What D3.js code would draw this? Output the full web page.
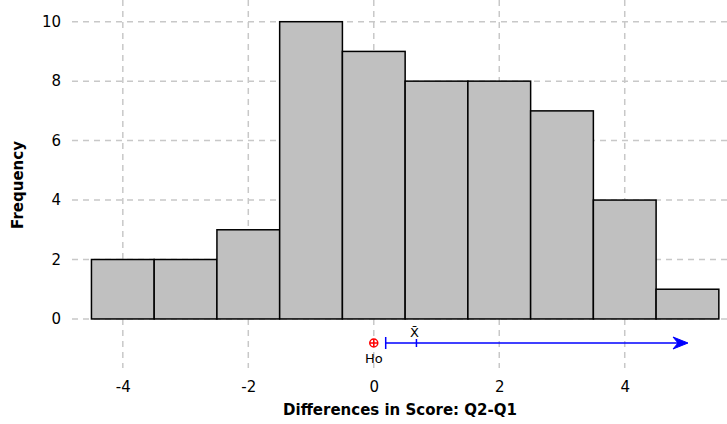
<!DOCTYPE html>
<html><head><meta charset="utf-8">
<script src="https://cdn.jsdelivr.net/npm/d3@7"></script>
<style>body{margin:0;background:#fff}svg{display:block}</style>
</head><body><svg id="c" width="727" height="424"></svg>
<script>
const binStarts = [-4.5,-3.5,-2.5,-1.5,-0.5,0.5,1.5,2.5,3.5,4.5];
const binWidth = 1;
const counts = [2,2,3,10,9,8,8,7,4,1];
const xTicks = [-4,-2,0,2,4];
const yTicks = [0,2,4,6,8,10];
const h0 = 0;
const meanDiff = 0.68;
const ciLower = 0.19;
const xTitle = "Differences in Score: Q2-Q1";
const yTitle = "Frequency";

const svg = d3.select("#c");
const font = "'DejaVu Sans', Verdana, sans-serif";
const x = d3.scaleLinear().domain([-4.81, 5.63]).range([72, 727]);
const y = d3.scaleLinear().domain([-1.65, 10.73]).range([368, 0]);

const grid = svg.append("g").attr("stroke","#c8c8c8").attr("stroke-width",1.5).attr("stroke-dasharray","6,5");
grid.selectAll("line.v").data(xTicks).join("line").attr("class","v")
  .attr("x1",d=>x(d)).attr("x2",d=>x(d)).attr("y1",0).attr("y2",368);
grid.selectAll("line.h").data(yTicks).join("line").attr("class","h")
  .attr("x1",72).attr("x2",727).attr("y1",d=>y(d)).attr("y2",d=>y(d));

svg.append("g").selectAll("rect").data(counts).join("rect")
  .attr("x",(d,i)=>x(binStarts[i]))
  .attr("width",(d,i)=>x(binStarts[i]+binWidth)-x(binStarts[i]))
  .attr("y",d=>y(d)).attr("height",d=>y(0)-y(d))
  .attr("fill","#c0c0c0").attr("stroke","#000").attr("stroke-width",1.5);

const fmt = d => String(d);
const yAxis = d3.axisLeft(y).tickValues(yTicks).tickSize(0).tickPadding(0).tickFormat(fmt);
const ya = svg.append("g").attr("transform","translate(61,0)").call(yAxis);
ya.select(".domain").remove();
ya.attr("font-size",null).attr("font-family",null);
ya.selectAll("text").attr("font-family",font).attr("font-size",15).attr("fill","#000");

const xAxis = d3.axisBottom(x).tickValues(xTicks).tickSize(0).tickPadding(0).tickFormat(fmt);
const xa = svg.append("g").attr("transform","translate(0,381)").call(xAxis);
xa.select(".domain").remove();
xa.attr("font-size",null).attr("font-family",null);
xa.selectAll("text").attr("font-family",font).attr("font-size",15).attr("fill","#000");

svg.append("text").attr("x",400).attr("y",415).attr("text-anchor","middle")
  .attr("font-family",font).attr("font-size",15).attr("font-weight","bold").text(xTitle);
svg.append("text").attr("transform","translate(23,185) rotate(-90)").attr("text-anchor","middle")
  .attr("font-family",font).attr("font-size",15).attr("font-weight","bold").text(yTitle);

const yl = 343;
const blue = "#0000ff";
const xEnd = 688;
svg.append("line").attr("x1",x(ciLower)).attr("x2",xEnd-6).attr("y1",yl).attr("y2",yl)
  .attr("stroke",blue).attr("stroke-width",1.5);
svg.append("line").attr("x1",x(ciLower)).attr("x2",x(ciLower)).attr("y1",yl-6).attr("y2",yl+6)
  .attr("stroke",blue).attr("stroke-width",1.5);
svg.append("line").attr("x1",x(meanDiff)).attr("x2",x(meanDiff)).attr("y1",yl-4).attr("y2",yl+4)
  .attr("stroke",blue).attr("stroke-width",1.5);
svg.append("path")
  .attr("d",`M${xEnd},${yl} L${xEnd-15},${yl-6} L${xEnd-10},${yl} L${xEnd-15},${yl+6} Z`)
  .attr("fill",blue).attr("stroke",blue).attr("stroke-width",1);
svg.append("text").attr("x",x(meanDiff)-2).attr("y",337).attr("text-anchor","middle")
  .attr("font-family",font).attr("font-size",13).attr("fill","#000").text("X\u0304");

const hx = x(h0);
svg.append("circle").attr("cx",hx).attr("cy",yl).attr("r",4)
  .attr("fill","none").attr("stroke","#ff0000").attr("stroke-width",1.5);
svg.append("line").attr("x1",hx-4).attr("x2",hx+4).attr("y1",yl).attr("y2",yl).attr("stroke","#ff0000").attr("stroke-width",1.5);
svg.append("line").attr("x1",hx).attr("x2",hx).attr("y1",yl-4).attr("y2",yl+4).attr("stroke","#ff0000").attr("stroke-width",1.5);
svg.append("text").attr("x",hx).attr("y",363).attr("text-anchor","middle")
  .attr("font-family",font).attr("font-size",13).attr("fill","#000").text("Ho");
</script></body></html>
